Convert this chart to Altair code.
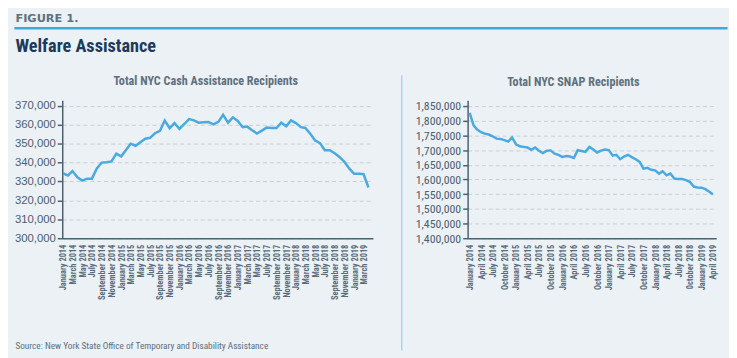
import altair as alt
import pandas as pd

# ---- data ----
months = pd.date_range("2014-01-01", periods=64, freq="MS")

cash = [334300, 333200, 335500, 332200, 330500, 331500, 331500, 336900,
        340000, 340200, 340600, 344700, 343300, 346800, 350000, 348900,
        350800, 352600, 353100, 355500, 356800, 362200, 358200, 360900,
        357800, 360400, 363000, 362300, 361100, 361300, 361500, 360200,
        361500, 365300, 361100, 363900, 362000, 358700, 359000, 357100,
        355400, 356900, 358500, 358300, 358300, 361100, 359200, 362300,
        360900, 358700, 358300, 355200, 351700, 350300, 346500, 346500,
        344900, 343000, 340400, 336900, 334100, 334100, 333900, 326800]

snap = [1827000, 1784000, 1770000, 1761000, 1756000, 1753000, 1747000, 1739000,
        1738000, 1734000, 1729000, 1743000, 1720000, 1713000, 1711000, 1709000,
        1701000, 1709000, 1698000, 1690000, 1698000, 1699000, 1688000, 1684000,
        1677000, 1680000, 1678000, 1673000, 1700000, 1697000, 1694000, 1711000,
        1702000, 1692000, 1698000, 1702000, 1700000, 1681000, 1684000, 1669000,
        1678000, 1684000, 1676000, 1669000, 1660000, 1637000, 1640000, 1633000,
        1631000, 1620000, 1628000, 1614000, 1620000, 1603000, 1602000, 1602000,
        1598000, 1592000, 1576000, 1573000, 1572000, 1567000, 1559000, 1550000]

cash_ticks = list(range(300000, 370001, 10000))
snap_ticks = list(range(1400000, 1850001, 50000))

header = "FIGURE 1."
title_main = "Welfare Assistance"
title_left = "Total NYC Cash Assistance Recipients"
title_right = "Total NYC SNAP Recipients"
source = "Source: New York State Office of Temporary and Disability Assistance"

df_cash = pd.DataFrame({"month": months, "value": cash})
df_snap = pd.DataFrame({"month": months, "value": snap})
dummy = pd.DataFrame({"k": [0]})

# ---- style ----
BG = "#EBF1F5"
LINE = "#4AA9E0"
AXIS = "#4A6172"
GRID = "#C9CED3"
NARROW = "Liberation Sans Narrow, Roboto Condensed, DejaVu Sans Condensed, Arial Narrow, sans-serif"
W1, W2, H = 315, 252, 140

left_x_vals = [alt.DateTime(year=d.year, month=d.month, date=1) for d in months[::2]]
right_x_vals = [alt.DateTime(year=d.year, month=d.month, date=1) for d in months[::3]]

def x_axis(vals, expr=None):
    kw = dict(values=vals, format="%B %Y", labelAngle=-90, ticks=False, grid=False,
              domainColor=AXIS, domainWidth=1.5, labelPadding=6, labelFont=NARROW,
              labelFontSize=8.5, labelFontWeight="bold", labelColor="#5A6C7C",
              labelOverlap=False, labelFlush=False, title=None)
    if expr:
        kw["labelExpr"] = expr
    return alt.Axis(**kw)

def y_axis(vals, font, size):
    return alt.Axis(values=vals, format=",d", title=None, grid=True, gridDash=[4, 3],
                    gridColor=GRID, gridWidth=1, domainColor=AXIS, domainWidth=1.5,
                    tickColor=AXIS, tickSize=5, tickWidth=1.5, labelPadding=2,
                    labelFont=font, labelFontSize=size, labelColor="#4C5E70")

# ---- left panel ----
frame = alt.Chart(dummy).mark_rect(opacity=0).encode(
    x=alt.value(-54.5), x2=alt.value(674.5), y=alt.value(-90.3), y2=alt.value(259.7))

cash_line = alt.Chart(df_cash).mark_line(color=LINE, strokeWidth=2.5).encode(
    x=alt.X("month:T", axis=x_axis(left_x_vals),
            scale=alt.Scale(domain=[alt.DateTime(year=2013, month=12, date=27),
                                    alt.DateTime(year=2019, month=4, date=29)], nice=False)),
    y=alt.Y("value:Q", axis=y_axis(cash_ticks, "Liberation Sans, Arial, sans-serif", 11.5),
            scale=alt.Scale(domain=[300000, 373000], nice=False, zero=False)),
)

def txt(text, x, y, size, color, font, weight="bold", align="left"):
    return alt.Chart(dummy).mark_text(text=text, align=align, baseline="alphabetic",
                                      font=font, fontSize=size, fontWeight=weight,
                                      color=color).encode(x=alt.value(x), y=alt.value(y))

blue_rule = alt.Chart(dummy).mark_rule(color="#3EA8DF", strokeWidth=2.5).encode(
    x=alt.value(-48.5), x2=alt.value(674.5), y=alt.value(-72.8))
divider = alt.Chart(dummy).mark_rule(color="#A8D5F2", strokeWidth=1.5).encode(
    x=alt.value(344.2), y=alt.value(-25.3), y2=alt.value(253.7))

left = alt.layer(
    frame,
    blue_rule,
    divider,
    txt(header, -47.5, -79.3, 11.5, "#5C7283", "DejaVu Sans, Verdana, sans-serif"),
    txt(title_main, -47.5, -49, 18.5, "#1D3A5C", NARROW),
    txt(title_left, 145.5, -15.3, 12.3, "#5F6F7E", NARROW, align="center"),
    txt(title_right, 518.2, -14.8, 12.3, "#5F6F7E", NARROW, align="center"),
    txt(source, -47.5, 252.4, 9.4, "#5E6E80", NARROW, weight="normal"),
    cash_line,
).properties(width=W1, height=H)

# ---- right panel ----
snap_line = alt.Chart(df_snap).mark_line(color=LINE, strokeWidth=2.5).encode(
    x=alt.X("month:T",
            axis=x_axis(right_x_vals,
                        "timeFormat(datum.value, '%B %Y') == 'October 2018' ? '0ctober 2018' : timeFormat(datum.value, '%B %Y')"),
            scale=alt.Scale(domain=[alt.DateTime(year=2013, month=12, date=16),
                                    alt.DateTime(year=2019, month=4, date=27)], nice=False)),
    y=alt.Y("value:Q", axis=y_axis(snap_ticks, NARROW, 12),
            scale=alt.Scale(domain=[1400000, 1870000], nice=False, zero=False)),
).properties(width=W2, height=H)

chart = alt.hconcat(left, snap_line, spacing=96, bounds="flush").properties(
    padding=0, background=BG
).configure_view(stroke=None)

chart.save("out.html", embed_options={"renderer": "svg", "actions": False})
